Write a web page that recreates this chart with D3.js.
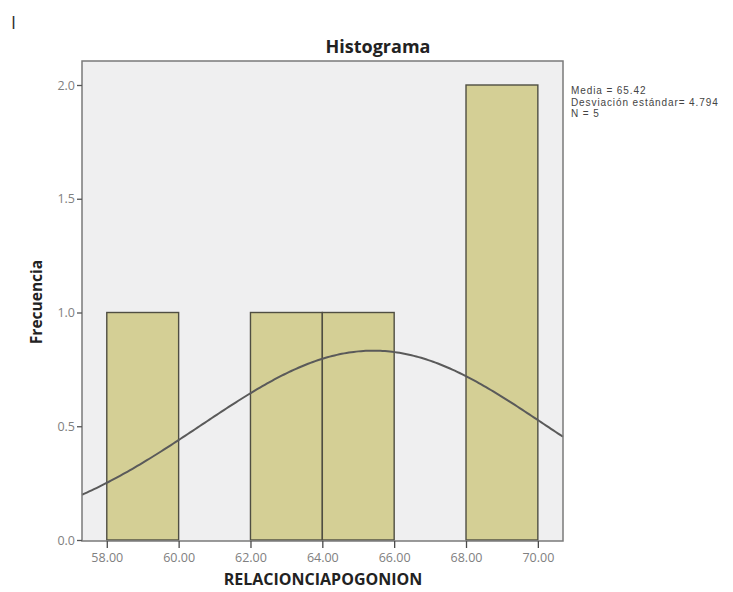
<!DOCTYPE html>
<html>
<head>
<meta charset="utf-8">
<script src="https://cdn.jsdelivr.net/npm/d3@7"></script>
<style>
  html, body { margin: 0; padding: 0; background: #fff; }
  svg { display: block; }
  text { font-family: "Open Sans", "DejaVu Sans", sans-serif; }
</style>
</head>
<body>
<div id="chart"></div>
<script>
// Histogram bins of RELACIONCIAPOGONION (bin edges and frequencies)
const binStarts = [58, 60, 62, 64, 66, 68];
const binWidth = 2;
const frequencies = [1, 0, 1, 1, 0, 2];
const xTicks = [58, 60, 62, 64, 66, 68, 70];
const yTicks = [0, 0.5, 1.0, 1.5, 2.0];
const stats = { mean: 65.42, sd: 4.794, n: 5 };
const statLines = ["Media = 65.42", "Desviación estándar= 4.794", "N = 5"];

const W = 733, H = 592;
const plot = { left: 82, top: 61, right: 563, bottom: 541 };

const svg = d3.select("#chart").append("svg").attr("width", W).attr("height", H);

const x = d3.scaleLinear().domain([57.31, 70.7]).range([plot.left, plot.right]);
const y = d3.scaleLinear().domain([0, 2.0]).range([540, 85]);

// plot background
svg.append("rect")
  .attr("x", plot.left).attr("y", plot.top)
  .attr("width", plot.right - plot.left).attr("height", plot.bottom - plot.top)
  .attr("fill", "#efeff0");

// bars
const bins = binStarts.map((s, i) => ({ x0: s, x1: s + binWidth, f: frequencies[i] }));
svg.append("g").selectAll("rect").data(bins.filter(d => d.f > 0)).join("rect")
  .attr("x", d => x(d.x0)).attr("y", d => y(d.f))
  .attr("width", d => x(d.x1) - x(d.x0)).attr("height", d => y(0) - y(d.f))
  .attr("fill", "#d4cf95").attr("stroke", "#4f4e42").attr("stroke-width", 1.4);

// normal curve scaled to counts
const curvePts = d3.range(0, 201).map(i => {
  const v = 57.31 + (70.7 - 57.31) * i / 200;
  const z = (v - stats.mean) / stats.sd;
  return [v, stats.n * binWidth * Math.exp(-0.5 * z * z) / (stats.sd * Math.sqrt(2 * Math.PI))];
});
svg.append("path")
  .attr("d", d3.line().x(d => x(d[0])).y(d => y(d[1]))(curvePts))
  .attr("fill", "none").attr("stroke", "#5a5a5a").attr("stroke-width", 2);

// frame
svg.append("rect")
  .attr("x", plot.left).attr("y", plot.top)
  .attr("width", plot.right - plot.left).attr("height", plot.bottom - plot.top)
  .attr("fill", "none").attr("stroke", "#7a7a7a").attr("stroke-width", 1.5);

// axes
const xAxis = d3.axisBottom(x).tickValues(xTicks).tickFormat(d3.format(".2f")).tickSize(7).tickPadding(5);
const gx = svg.append("g").attr("transform", `translate(0,${plot.bottom})`).call(xAxis);
gx.select(".domain").remove();
gx.selectAll("line").attr("stroke", "#4a4a4a").attr("stroke-width", 1.3);
gx.selectAll("text").attr("fill", "#808080").attr("font-size", 12.5);

const yAxis = d3.axisLeft(y).tickValues(yTicks).tickFormat(d3.format(".1f")).tickSize(5).tickPadding(2);
const gy = svg.append("g").attr("transform", `translate(${plot.left},0)`).call(yAxis);
gy.select(".domain").remove();
gy.selectAll("line").attr("stroke", "#555").attr("stroke-width", 1.3);
gy.selectAll("text").attr("fill", "#808080").attr("font-size", 12.5);

// titles
svg.append("text").attr("x", 378).attr("y", 53).attr("text-anchor", "middle")
  .attr("font-size", 18).attr("font-weight", "bold").attr("fill", "#222").text("Histograma");
svg.append("text").attr("x", 323).attr("y", 585).attr("text-anchor", "middle")
  .attr("font-size", 16).attr("font-weight", "bold").attr("fill", "#222").text("RELACIONCIAPOGONION");
svg.append("text").attr("transform", "translate(42,302) rotate(-90)").attr("text-anchor", "middle")
  .attr("font-size", 15.5).attr("font-weight", "bold").attr("fill", "#222").text("Frecuencia");

// summary statistics (compact font keeps the three lines tight)
svg.append("g").selectAll("text").data(statLines).join("text")
  .attr("x", 571).attr("y", (d, i) => 94 + i * 11.5)
  .style("font-family", "'Liberation Sans', Arial, sans-serif")
  .attr("font-size", 10).attr("letter-spacing", 0.9).attr("fill", "#444").text(d => d);

// small mark at top-left
svg.append("text").attr("x", 11).attr("y", 29).attr("font-size", 18).attr("fill", "#333").text("I");
</script>
</body>
</html>
